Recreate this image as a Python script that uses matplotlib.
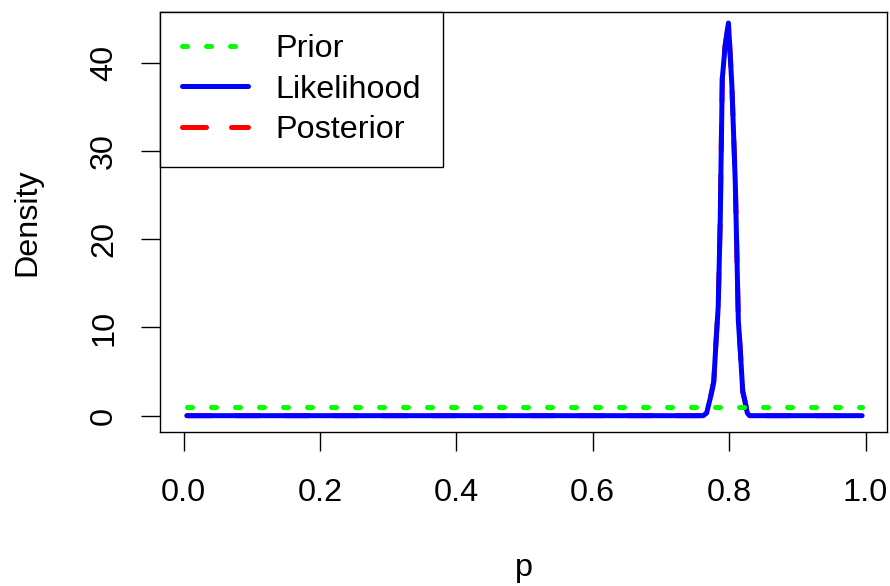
import matplotlib
matplotlib.use("Agg")
import matplotlib.pyplot as plt

plt.rcParams['font.family'] = ['Liberation Sans', 'DejaVu Sans']

# ---- data ----
p_prior = [0.005, 0.995]
prior = [1.0, 1.0]

p_like = [0.005, 0.762, 0.767, 0.774, 0.7775, 0.781, 0.784, 0.787, 0.788,
          0.790, 0.794, 0.799, 0.804, 0.809, 0.8107, 0.8135, 0.8165, 0.820,
          0.8233, 0.8267, 0.830, 0.995]
likelihood = [0.0, 0.0, 0.3, 2.5, 3.85, 8.6, 12.35, 22.2, 27.8,
              38.2, 41.8, 44.5, 37.5, 26.5, 20.7, 10.8, 7.25, 2.7,
              1.6, 0.3, 0.0, 0.0]
posterior = [0.0, 0.0, 0.35, 2.6, 3.9, 8.7, 12.4, 22.3, 27.9,
             38.3, 41.9, 44.5, 37.6, 26.6, 20.8, 10.9, 7.3, 2.75,
             1.65, 0.3, 0.0, 0.0]

x_ticks = [0.0, 0.2, 0.4, 0.6, 0.8, 1.0]
x_tick_labels = ["0.0", "0.2", "0.4", "0.6", "0.8", "1.0"]
y_ticks = [0, 10, 20, 30, 40]
y_tick_labels = ["0", "10", "20", "30", "40"]
series_names = ["Prior", "Likelihood", "Posterior"]

# ---- figure ----
W, H = 890, 586
fig = plt.figure(figsize=(W / 100, H / 100), dpi=100)
L, R, T, B = 160, 887, 12, 432
ax = fig.add_axes([L / W, 1 - B / H, (R - L) / W, (B - T) / H])

LW = 3.6
FS = 23.3

ax.plot(p_like, posterior, color='#FF0000', lw=LW, linestyle=(0, (4.8, 5.0)),
        dash_capstyle='round', solid_capstyle='round', label=series_names[2], zorder=2)
ax.plot(p_like, likelihood, color='#0000FF', lw=LW, linestyle='-',
        solid_capstyle='round', solid_joinstyle='round', label=series_names[1], zorder=3)
ax.plot(p_prior, prior, color='#00FF00', lw=LW, linestyle=(0, (1.0, 3.8)),
        dash_capstyle='round', label=series_names[0], zorder=4)

ax.set_xlim(-0.0345, 1.0315)
ax.set_ylim(-1.85, 45.75)

ax.set_xticks(x_ticks)
ax.set_xticklabels(x_tick_labels)
ax.set_yticks(y_ticks)
ax.set_yticklabels(y_tick_labels, rotation=90, va='center')

ax.tick_params(axis='both', direction='out', length=13.5, width=1.0,
               labelsize=FS, colors='black')
ax.tick_params(axis='x', pad=19.5)
ax.tick_params(axis='y', pad=16)
for s in ax.spines.values():
    s.set_linewidth(1.0)
    s.set_color('black')

fig.text(523.5 / W, 1 - 576 / H, "p", fontsize=FS, ha='center', va='baseline')
fig.text(27 / W, 1 - 222 / H, "Density", fontsize=FS, ha='center', va='center',
         rotation=90)

# legend (order: Prior, Likelihood, Posterior)
handles, labels = ax.get_legend_handles_labels()
order = [labels.index(n) for n in series_names]
leg = ax.legend([handles[i] for i in order], [labels[i] for i in order],
                loc='upper left', bbox_to_anchor=(0, 1), borderaxespad=0,
                fontsize=FS, frameon=True, fancybox=False, framealpha=1,
                edgecolor='black', handlelength=2.04, handletextpad=0.85,
                labelspacing=0.32, borderpad=0.685)
leg.get_frame().set_linewidth(1.0)

fig.savefig("out.png", dpi=100)
